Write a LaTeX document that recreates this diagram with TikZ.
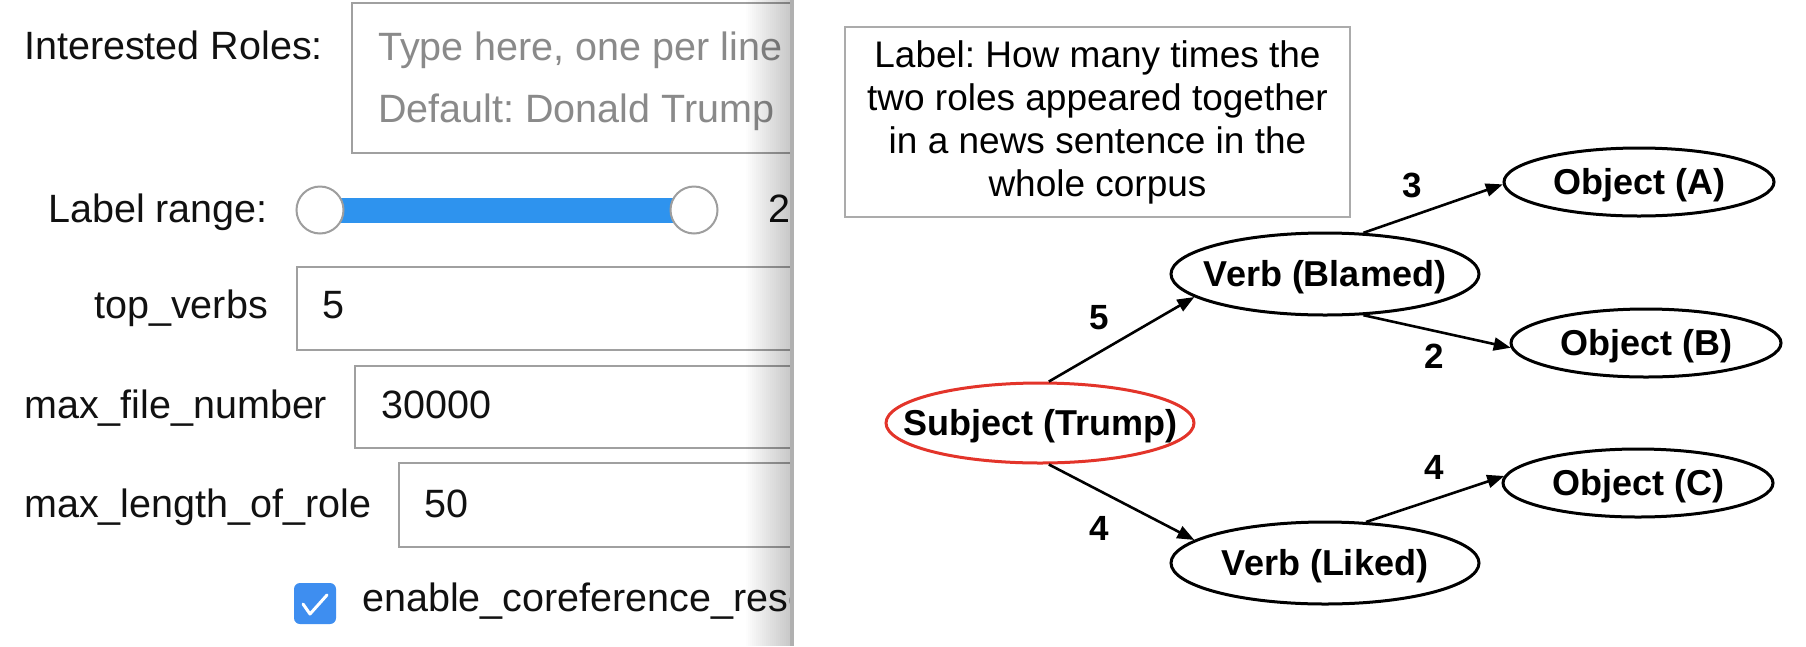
\documentclass[tikz,border=0pt]{standalone}
\usepackage{fontspec}
\setmainfont{Liberation Sans}
\frenchspacing
\usetikzlibrary{shapes.geometric,arrows.meta}
\definecolor{labelblack}{HTML}{111111}
\definecolor{phgray}{HTML}{8A8A8A}
\definecolor{fieldgray}{HTML}{A0A0A0}
\definecolor{sliderblue}{HTML}{2E93EE}
\definecolor{knobgray}{HTML}{9E9E9E}
\definecolor{checkblue}{HTML}{3E8EF0}
\definecolor{subjred}{HTML}{E3342A}
\definecolor{boxgray}{HTML}{ABABAB}
\definecolor{edgegray}{HTML}{B0B0B0}
\tikzset{
  lbl/.style={font=\fontsize{39.5}{46}\selectfont, text=labelblack, inner sep=0pt},
  ph/.style={lbl, text=phgray},
  field/.style={draw=fieldgray, line width=2pt},
  ell/.style={ellipse, draw=black, line width=3pt, inner sep=0pt,
    font=\bfseries\fontsize{36}{40}\selectfont, text height=25.8pt, text depth=0pt},
  num/.style={font=\bfseries\fontsize{35}{40}\selectfont, inner sep=0pt},
  arr/.style={line width=2.6pt, -{Triangle[length=17pt,width=13pt]}},
}
\begin{document}
\begin{tikzpicture}[x=1pt,y=-1pt]
\useasboundingbox (0,0) rectangle (1806,646);
\fill[white] (0,0) rectangle (1806,646);

% ---------- left panel (form screenshot) ----------
\begin{scope}
\clip (0,0) rectangle (790,646);
% Interested Roles
\node[lbl, anchor=base west] (roles) at (24,59) {Interested Roles:};
\draw[field] (352,3) rectangle (820,153);
\node[ph, anchor=base west] (ph1) at (378,60) {Type here, one per line};
\node[ph, anchor=base west] (ph2) at (378,122) {Default: Donald Trump};
% Label range
\node[lbl, anchor=base east] (range) at (268,222) {Label range:};
\fill[sliderblue] (320,198) rectangle (694,223);
\draw[knobgray, line width=2pt, fill=white] (320,210) circle (23.5);
\draw[knobgray, line width=2pt, fill=white] (694,210) circle (23.5);
\node[lbl, anchor=base west] (rmax) at (768,222) {2};
% top_verbs
\node[lbl, anchor=base east] (topv) at (268,318) {top\_verbs};
\draw[field] (297,267) rectangle (820,350);
\node[lbl, anchor=base west] (topvv) at (322,318) {5};
% max_file_number
\node[lbl, anchor=base west] (maxf) at (24,418) {max\_file\_number};
\draw[field] (355,366) rectangle (820,448);
\node[lbl, anchor=base west] (maxfv) at (381,418) {30000};
% max_length_of_role
\node[lbl, anchor=base west] (maxl) at (24,517) {max\_length\_of\_role};
\draw[field] (399,463) rectangle (820,547);
\node[lbl, anchor=base west] (maxlv) at (424,517) {50};
% checkbox
\fill[checkblue, rounded corners=6pt] (294,583) rectangle (336,624);
\draw[white, line width=3pt, line cap=round, line join=round] (303,604) -- (310,614) -- (327,595);
\node[lbl, anchor=base west] (coref) at (362,611) {enable\_coreference\_resolution};
% shadow at panel edge
\foreach \i in {0,...,22} {
  \pgfmathsetmacro{\op}{0.0095*\i}
  \fill[black, fill opacity=\op] (744+2*\i,0) rectangle (746+2*\i,646);
}
\end{scope}
\draw[edgegray, line width=4pt] (792,0) -- (792,646);

% ---------- right panel (diagram) ----------
\node[draw=boxgray, line width=1.5pt, minimum width=505pt, minimum height=190pt,
      align=center, inner sep=0pt, font=\fontsize{37}{43}\selectfont] (legend) at (1097.5,122)
  {Label: How many times the\\two roles appeared together\\in a news sentence in the\\whole corpus};

\node[ell, draw=subjred, minimum width=308pt, minimum height=80pt] (subj) at (1040,423) {\makebox[0pt]{Subject (Trump)}};
\node[ell, minimum width=308pt, minimum height=82pt] (verbB) at (1325,274) {\makebox[0pt]{Verb (Blamed)}};
\node[ell, minimum width=308pt, minimum height=82pt] (verbL) at (1325,563) {\makebox[0pt]{Verb (Liked)}};
\node[ell, minimum width=270pt, minimum height=68pt] (objA) at (1639,182) {\makebox[0pt]{Object (A)}};
\node[ell, minimum width=270pt, minimum height=68pt] (objB) at (1646,343) {\makebox[0pt]{Object (B)}};
\node[ell, minimum width=270pt, minimum height=68pt] (objC) at (1638,483) {\makebox[0pt]{Object (C)}};

\draw[arr] (subj.78) -- (verbB.190);
\draw[arr] (subj.282) -- (verbL.170);
\draw[arr] (verbB.47) -- (objA.181);
\draw[arr] (verbB.313) -- (objB.182);
\draw[arr] (verbL.45) -- (objC.177);

\node[num] (n5) at (1099,318) {5};
\node[num] (n4a) at (1099,528) {4};
\node[num] (n3) at (1412,185) {3};
\node[num] (n2) at (1434,356) {2};
\node[num] (n4b) at (1434,467) {4};
\end{tikzpicture}
\end{document}
